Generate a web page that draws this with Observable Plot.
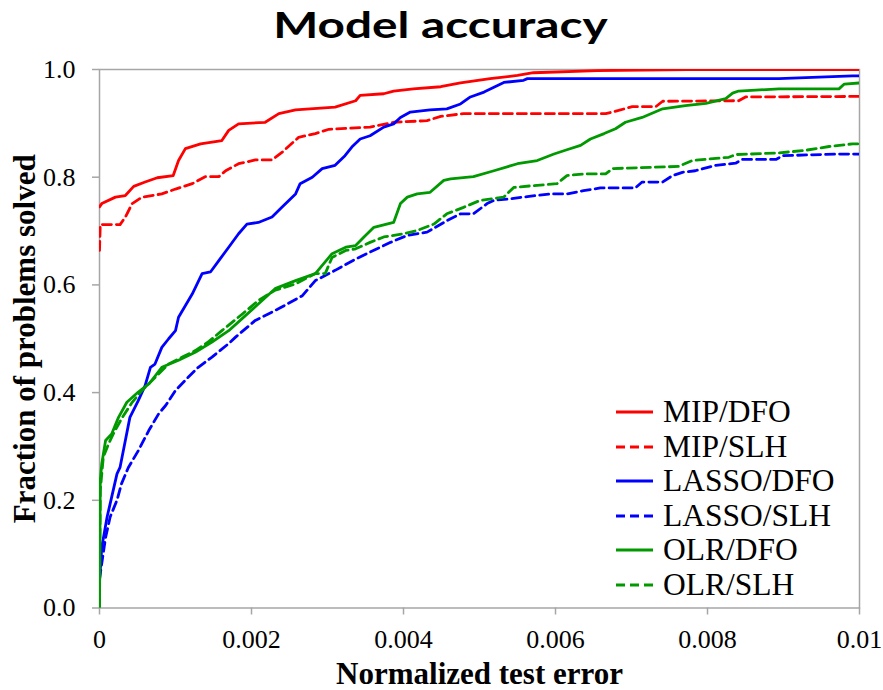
<!DOCTYPE html>
<html>
<head>
<meta charset="utf-8">
<script src="https://cdn.jsdelivr.net/npm/d3@7"></script>
<script src="https://cdn.jsdelivr.net/npm/@observablehq/plot@0.6"></script>
<style>
  body { margin: 0; background: #fff; }
  #wrap { position: relative; width: 883px; height: 690px; overflow: hidden; }
  #title { position: absolute; left: 0; top: 5px; width: 883px; text-align: center;
           font: 700 37px Lato, "Open Sans", sans-serif; line-height: 37px; color: #000;
           transform: scaleX(1.29); transform-origin: 445px 0; }
  #chart { position: absolute; left: 0; top: 60px; }
  #legend { position: absolute; left: 616px; top: 395px; font-family: "Liberation Serif", "Times New Roman", serif;
            font-size: 31.5px; color: #000; }
  .row { height: 34.5px; display: flex; align-items: center; }
  .row svg { margin-right: 9px; }
</style>
</head>
<body>
<div id="wrap">
  <div id="title">Model accuracy</div>
  <div id="chart"></div>
  <div id="legend"></div>
</div>
<script>
// ---- data (x = normalized test error, y = fraction of problems solved)
const seriesNames = ["MIP/DFO", "MIP/SLH", "LASSO/DFO", "LASSO/SLH", "OLR/DFO", "OLR/SLH"];
const seriesColors = ["#ff0000", "#ff0000", "#0000ff", "#0000ff", "#009900", "#009900"];
const seriesDashed = [false, true, false, true, false, true];

const xTicks = [0, 0.002, 0.004, 0.006, 0.008, 0.01];
const yTicks = [0, 0.2, 0.4, 0.6, 0.8, 1.0];

const mipDfo = [[0,0.745],[0.00003,0.751],[0.00021,0.763],[0.00034,0.766],[0.00045,0.783],[0.0006,0.791],[0.00076,0.799],[0.00097,0.803],[0.00104,0.831],[0.00113,0.853],[0.00133,0.862],[0.00161,0.868],[0.0017,0.887],[0.00183,0.899],[0.00218,0.902],[0.00236,0.918],[0.00258,0.925],[0.0031,0.93],[0.00337,0.942],[0.00343,0.952],[0.00374,0.955],[0.00387,0.96],[0.00413,0.964],[0.00449,0.968],[0.00475,0.975],[0.00514,0.983],[0.0055,0.989],[0.00571,0.994],[0.00655,0.998],[0.00774,1.0],[0.01,1.0]];

const mipSlh = [[0,0.664],[0.00001,0.712],[0.00027,0.712],[0.00034,0.726],[0.00043,0.751],[0.00056,0.763],[0.00082,0.769],[0.001,0.778],[0.00122,0.788],[0.00139,0.801],[0.00157,0.801],[0.00166,0.812],[0.00183,0.825],[0.00205,0.832],[0.00227,0.832],[0.0024,0.846],[0.00262,0.874],[0.00284,0.881],[0.00302,0.889],[0.00356,0.893],[0.00387,0.902],[0.00431,0.905],[0.00449,0.913],[0.00479,0.918],[0.00666,0.918],[0.00683,0.924],[0.00701,0.931],[0.00732,0.931],[0.00741,0.941],[0.00841,0.942],[0.0085,0.949],[0.01,0.95]];

const lassoDfo = [[0,0.05],[0.00003,0.113],[0.0001,0.169],[0.00016,0.206],[0.00023,0.249],[0.00027,0.261],[0.00034,0.311],[0.0004,0.354],[0.00051,0.385],[0.0006,0.413],[0.00067,0.447],[0.00073,0.453],[0.00082,0.484],[0.00091,0.5],[0.001,0.515],[0.00104,0.54],[0.00122,0.583],[0.00135,0.621],[0.00146,0.624],[0.00157,0.645],[0.0017,0.67],[0.00183,0.695],[0.00194,0.713],[0.00209,0.716],[0.00227,0.726],[0.0024,0.744],[0.00258,0.769],[0.00264,0.788],[0.0028,0.8],[0.00293,0.816],[0.0031,0.822],[0.00323,0.84],[0.00332,0.856],[0.00343,0.871],[0.00356,0.877],[0.00374,0.893],[0.00387,0.899],[0.00396,0.911],[0.00409,0.921],[0.00435,0.925],[0.00457,0.927],[0.00475,0.936],[0.00488,0.949],[0.00506,0.958],[0.00519,0.967],[0.00532,0.976],[0.00558,0.98],[0.00563,0.983],[0.00894,0.983],[0.00991,0.988],[0.01,0.988]];

const lassoSlh = [[0,0.054],[0.00008,0.131],[0.00014,0.169],[0.00023,0.2],[0.00029,0.231],[0.00038,0.261],[0.00051,0.292],[0.00065,0.33],[0.00078,0.361],[0.00087,0.376],[0.001,0.404],[0.00117,0.429],[0.0013,0.447],[0.00148,0.466],[0.0017,0.491],[0.00179,0.503],[0.00205,0.534],[0.00236,0.556],[0.00267,0.58],[0.00284,0.608],[0.0031,0.627],[0.00337,0.648],[0.00356,0.661],[0.00383,0.679],[0.00405,0.692],[0.00431,0.698],[0.00462,0.723],[0.00475,0.732],[0.00492,0.732],[0.0051,0.751],[0.00519,0.757],[0.00541,0.76],[0.00563,0.764],[0.00593,0.769],[0.00615,0.769],[0.00637,0.775],[0.00659,0.78],[0.00705,0.78],[0.00714,0.791],[0.00741,0.791],[0.00754,0.803],[0.00767,0.809],[0.00784,0.812],[0.00811,0.822],[0.00837,0.826],[0.00846,0.833],[0.0089,0.833],[0.00899,0.84],[0.00973,0.843],[0.01,0.843]];

const olrDfo = [[0,0],[0.00001,0.237],[0.00003,0.268],[0.00008,0.311],[0.00016,0.323],[0.00025,0.354],[0.00036,0.382],[0.00051,0.401],[0.00065,0.416],[0.00082,0.447],[0.00104,0.46],[0.00126,0.475],[0.00148,0.494],[0.0017,0.515],[0.00192,0.543],[0.00214,0.571],[0.00231,0.593],[0.00258,0.608],[0.00284,0.621],[0.00306,0.658],[0.00324,0.67],[0.00337,0.673],[0.00348,0.689],[0.00361,0.707],[0.00387,0.716],[0.00396,0.751],[0.00405,0.763],[0.00418,0.769],[0.00435,0.772],[0.00453,0.794],[0.00462,0.797],[0.00492,0.801],[0.00519,0.812],[0.0055,0.825],[0.00576,0.831],[0.00598,0.843],[0.00615,0.851],[0.00633,0.859],[0.00646,0.871],[0.00664,0.881],[0.00679,0.89],[0.00692,0.902],[0.00714,0.911],[0.00741,0.927],[0.00771,0.933],[0.00798,0.937],[0.00824,0.946],[0.00833,0.956],[0.00841,0.96],[0.00894,0.964],[0.00973,0.964],[0.0098,0.973],[0.01,0.975]];

const olrSlh = [[0,0],[0.00001,0.218],[0.00005,0.28],[0.00012,0.305],[0.00018,0.323],[0.0003,0.354],[0.00043,0.382],[0.00056,0.404],[0.00078,0.435],[0.00091,0.453],[0.00109,0.466],[0.00126,0.478],[0.00144,0.495],[0.00161,0.515],[0.00188,0.546],[0.00209,0.571],[0.00231,0.59],[0.00258,0.602],[0.00284,0.621],[0.00297,0.621],[0.00306,0.651],[0.00324,0.664],[0.00337,0.667],[0.00356,0.679],[0.00374,0.689],[0.004,0.695],[0.00418,0.701],[0.0044,0.713],[0.00457,0.732],[0.00479,0.744],[0.00501,0.757],[0.00532,0.763],[0.00545,0.781],[0.00576,0.785],[0.00602,0.788],[0.00615,0.803],[0.00637,0.806],[0.00666,0.806],[0.00675,0.816],[0.00762,0.82],[0.0078,0.831],[0.00828,0.837],[0.00837,0.842],[0.00894,0.845],[0.00929,0.85],[0.0096,0.857],[0.00991,0.862],[0.01,0.862]];

const seriesData = [mipDfo, mipSlh, lassoDfo, lassoSlh, olrDfo, olrSlh];

// ---- build table
const rows = seriesData.flatMap((pts, i) => pts.map(([x, y]) => ({series: seriesNames[i], x, y})));

const serif = "'Liberation Serif', 'Times New Roman', serif";
const axisGray = "#a6a6a6";

const lineMarks = seriesNames.map((name, i) =>
  Plot.line(rows.filter(d => d.series === name), {
    x: "x", y: "y",
    curve: "linear",
    stroke: seriesColors[i],
    strokeWidth: 2.8,
    strokeLinejoin: "round",
    strokeDasharray: seriesDashed[i] ? "9,5" : null,
    clip: true
  })
);

const chart = Plot.plot({
  width: 883,
  height: 630,
  marginTop: 9,
  marginBottom: 82.5,
  marginLeft: 99,
  marginRight: 24,
  style: {fontFamily: serif, fontSize: "26px", background: "white", color: "black", overflow: "visible"},
  x: {domain: [0, 0.01]},
  y: {domain: [0, 1]},
  marks: [
    Plot.frame({stroke: axisGray, strokeWidth: 1.5}),
    Plot.axisX(xTicks, {tickSize: 7, tickPadding: 15, stroke: axisGray, strokeWidth: 1.5, fill: "black",
                        fontSize: 26, tickFormat: d => String(d), label: null}),
    Plot.axisY(yTicks, {tickSize: 7, tickPadding: 17, stroke: axisGray, strokeWidth: 1.5, fill: "black",
                        fontSize: 26, tickFormat: d3.format(".1f"), label: null}),
    ...lineMarks,
    Plot.text(["Normalized test error"], {frameAnchor: "bottom", dy: 66, fontSize: 31, fontWeight: "bold",
                                          fontFamily: serif, lineAnchor: "middle", textAnchor: "middle", fill: "black"}),
    Plot.text(["Fraction of problems solved"], {frameAnchor: "left", dx: -74, rotate: -90, fontSize: 31,
                                                fontWeight: "bold", fontFamily: serif, textAnchor: "middle",
                                                lineAnchor: "middle", fill: "black"})
  ]
});
document.getElementById("chart").appendChild(chart);

// ---- legend (built from the same series arrays)
const legend = document.getElementById("legend");
seriesNames.forEach((name, i) => {
  const row = document.createElement("div");
  row.className = "row";
  const ns = "http://www.w3.org/2000/svg";
  const svg = document.createElementNS(ns, "svg");
  svg.setAttribute("width", "38");
  svg.setAttribute("height", "10");
  const ln = document.createElementNS(ns, "line");
  ln.setAttribute("x1", "0"); ln.setAttribute("x2", "37");
  ln.setAttribute("y1", "5"); ln.setAttribute("y2", "5");
  ln.setAttribute("stroke", seriesColors[i]);
  ln.setAttribute("stroke-width", "3");
  if (seriesDashed[i]) ln.setAttribute("stroke-dasharray", "9,5");
  svg.appendChild(ln);
  const span = document.createElement("span");
  span.textContent = name;
  row.appendChild(svg);
  row.appendChild(span);
  legend.appendChild(row);
});
</script>
</body>
</html>
